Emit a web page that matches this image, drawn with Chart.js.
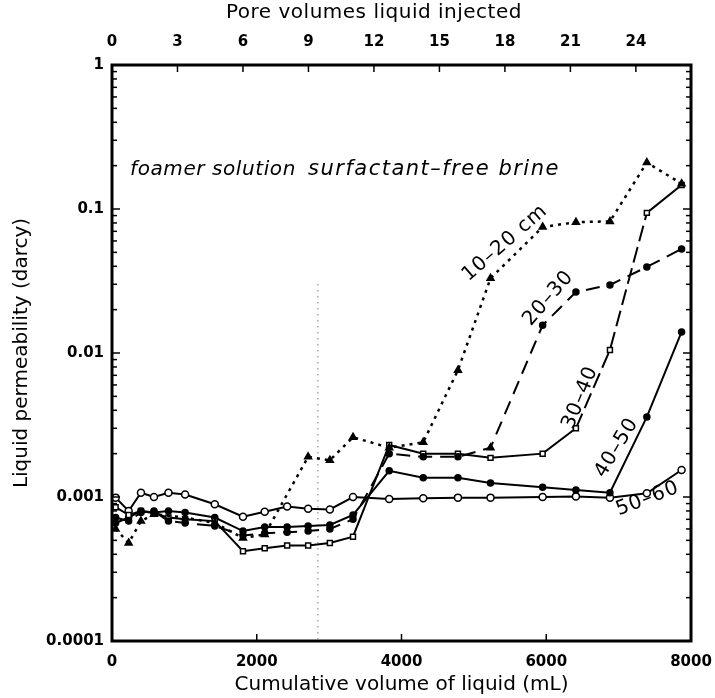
<!DOCTYPE html>
<html><head><meta charset="utf-8">
<script src="https://cdn.jsdelivr.net/npm/chart.js@4.4.1/dist/chart.umd.min.js"></script>
<style>html,body{margin:0;padding:0;background:#fff}canvas{display:block}</style>
</head><body>
<canvas id="c" width="715" height="698"></canvas>
<script>
// Cumulative volume of liquid (mL) at each measurement
const volumes = [50, 230, 400, 580, 780, 1010, 1420, 1810, 2110, 2420, 2710, 3010, 3330, 3830, 4300, 4780, 5230, 5950, 6410, 6880, 7390, 7870];
// Liquid permeability (darcy) per core section
const perm1020 = [0.00060, 0.00048, 0.00068, 0.00076, null, 0.00072, 0.00066, 0.00052, 0.00055, null, 0.0019, 0.0018, 0.0026, 0.0022, 0.0024, 0.0076, 0.033, 0.075, 0.081, 0.082, 0.21, 0.15];
const perm2030 = [0.00072, 0.00068, 0.00078, 0.00080, 0.00068, 0.00066, 0.00063, 0.00054, 0.00056, 0.00057, 0.00058, 0.00060, 0.00070, 0.0020, 0.0019, 0.0019, 0.0022, 0.0156, 0.0265, 0.0297, 0.0396, 0.0528];
const perm3040 = [0.00085, 0.00075, 0.00080, 0.00077, 0.00072, 0.00070, 0.00068, 0.00042, 0.00044, 0.00046, 0.00046, 0.00048, 0.00053, 0.0023, 0.0020, 0.0020, 0.00187, 0.0020, 0.0030, 0.0105, 0.094, 0.147];
const perm4050 = [0.00066, 0.00072, 0.00080, 0.00078, 0.00080, 0.00078, 0.00072, 0.00058, 0.00062, 0.00062, 0.00063, 0.00064, 0.00075, 0.00152, 0.00136, 0.00136, 0.00125, 0.00117, 0.00112, 0.00107, 0.0036, 0.014];
const perm5060 = [0.00099, 0.00080, 0.00107, 0.00100, 0.00107, 0.00104, 0.00089, 0.00073, 0.00079, 0.00086, 0.00083, 0.00082, 0.00100, 0.00097, 0.00098, 0.00099, 0.00099, 0.00100, 0.00101, 0.00099, 0.00106, 0.00154];
const seriesLabels = ['10\u201320 cm', '20\u201330', '30\u201340', '40\u201350', '50\u201360'];
// Axis ticks
const volumeTicks = [0, 2000, 4000, 6000, 8000];
const poreVolumeTicks = [0, 3, 6, 9, 12, 15, 18, 21, 24];
const permTicks = [1, 0.1, 0.01, 0.001, 0.0001];
const mlPerPoreVolume = 301.6;
const brineStartVolume = 2845;
const phaseLabels = ['foamer solution', 'surfactant\u2013free brine'];
const topTitle = 'Pore volumes liquid injected';
// Label anchors in data coordinates [volume, permeability, angleDeg]
const labelAnchors = [[5430, 0.058, -41], [6030, 0.024, -49], [6470, 0.0049, -68], [6975, 0.0022, -59], [7400, 0.00097, -21]];

const FONT = '"DejaVu Sans", sans-serif';
const pts = arr => volumes.map((v, i) => ({x: v, y: arr[i]}));

function fitText(ctx, text, x, y, width) {
  ctx.letterSpacing = '0px';
  const w = ctx.measureText(text).width;
  const sp = Math.max(0, (width - w) / text.length);
  ctx.letterSpacing = sp.toFixed(2) + 'px';
  ctx.fillText(text, x, y);
  ctx.letterSpacing = '0px';
}

const decor = {
  id: 'decor',
  beforeDatasetsDraw(chart) {
    const {ctx, chartArea: a, scales: {x, y}} = chart;
    const px = x.getPixelForValue(brineStartVolume);
    ctx.save();
    ctx.strokeStyle = '#444'; ctx.lineWidth = 1; ctx.setLineDash([1, 5]);
    ctx.beginPath(); ctx.moveTo(px, y.getPixelForValue(0.03)); ctx.lineTo(px, a.bottom - 2); ctx.stroke();
    ctx.restore();
  },
  afterDraw(chart) {
    const {ctx, chartArea: a, scales: {x, x2, y}} = chart;
    ctx.save();
    ctx.strokeStyle = '#000'; ctx.lineWidth = 1.5; ctx.setLineDash([]);
    for (let e = -4; e <= 0; e++) {
      for (let m = 1; m <= 9; m++) {
        const v = m * Math.pow(10, e);
        if (v > 1.0001) continue;
        const py = y.getPixelForValue(v);
        const len = m === 1 ? 8 : 5;
        ctx.beginPath(); ctx.moveTo(a.left, py); ctx.lineTo(a.left + len, py); ctx.stroke();
        ctx.beginPath(); ctx.moveTo(a.right, py); ctx.lineTo(a.right - len, py); ctx.stroke();
      }
    }
    volumeTicks.forEach(v => { const p = x.getPixelForValue(v); ctx.beginPath(); ctx.moveTo(p, a.bottom); ctx.lineTo(p, a.bottom - 7); ctx.stroke(); });
    poreVolumeTicks.forEach(v => { const p = x2.getPixelForValue(v); ctx.beginPath(); ctx.moveTo(p, a.top); ctx.lineTo(p, a.top + 7); ctx.stroke(); });
    ctx.lineWidth = 3;
    ctx.strokeRect(a.left, a.top, a.right - a.left, a.bottom - a.top);
    ctx.fillStyle = '#000';
    // top title
    ctx.font = '20px ' + FONT; ctx.textBaseline = 'middle'; ctx.textAlign = 'left';
    fitText(ctx, topTitle, 226, 13, 296);
    // phase labels
    ctx.font = 'oblique 20px ' + FONT;
    fitText(ctx, phaseLabels[0], 130, 170, 166);
    ctx.font = 'oblique 21px ' + FONT;
    fitText(ctx, phaseLabels[1], 308, 170, 252);
    // series labels
    ctx.font = '20px ' + FONT; ctx.textAlign = 'center';
    labelAnchors.forEach((an, i) => {
      ctx.save();
      ctx.translate(x.getPixelForValue(an[0]), y.getPixelForValue(an[1]));
      ctx.rotate(an[2] * Math.PI / 180);
      ctx.letterSpacing = '1px';
      ctx.fillText(seriesLabels[i], 0, 0);
      ctx.restore();
    });
    ctx.restore();
  }
};

const base = {borderColor: '#000', borderWidth: 2, pointBorderColor: '#000', pointBorderWidth: 1.5, spanGaps: true, tension: 0, fill: false};
const pointStyle2030 = volumes.map((v, i) => i === 16 ? 'triangle' : 'circle');
const pointRadius2030 = volumes.map((v, i) => i === 16 ? 4 : 3);
const noPad = s => { s.paddingLeft = 0; s.paddingRight = 0; };

new Chart(document.getElementById('c'), {
  type: 'line',
  data: {
    datasets: [
      Object.assign({}, base, {label: seriesLabels[0], data: pts(perm1020), borderDash: [3, 5], borderWidth: 2.5, pointStyle: 'triangle', pointRadius: 4, pointBackgroundColor: '#000'}),
      Object.assign({}, base, {label: seriesLabels[1], data: pts(perm2030), borderDash: [14, 8], pointStyle: pointStyle2030, pointRadius: pointRadius2030, pointBackgroundColor: '#000'}),
      Object.assign({}, base, {label: seriesLabels[2], data: pts(perm3040), pointStyle: 'rect', pointRadius: 3.5, pointBackgroundColor: '#fff',
        segment: {borderDash: c => c.p0DataIndex >= 18 && c.p0DataIndex <= 19 ? [16, 6] : undefined}}),
      Object.assign({}, base, {label: seriesLabels[3], data: pts(perm4050), pointStyle: 'circle', pointRadius: 3, pointBackgroundColor: '#000'}),
      Object.assign({}, base, {label: seriesLabels[4], data: pts(perm5060), pointStyle: 'circle', pointRadius: 3.5, pointBackgroundColor: '#fff'})
    ]
  },
  options: {
    responsive: false, animation: false, devicePixelRatio: 1,
    layout: {padding: {left: 0, right: 24, top: 0, bottom: 0}},
    plugins: {legend: {display: false}, title: {display: false}, tooltip: {enabled: false}},
    scales: {
      x: {type: 'linear', position: 'bottom', min: 0, max: 8000,
        afterBuildTicks: s => { s.ticks = volumeTicks.map(v => ({value: v})); },
        afterFit: s => { s.height = 57; noPad(s); },
        grid: {display: false, drawTicks: false}, border: {display: false},
        ticks: {color: '#000', padding: 12, maxRotation: 0, font: {family: FONT, size: 15, weight: 'bold'}, callback: v => String(v)},
        title: {display: true, text: 'Cumulative volume of liquid (mL)', color: '#000', padding: {top: 0, bottom: 1}, font: {family: FONT, size: 20}}},
      x2: {type: 'linear', position: 'top', min: 0, max: 8000 / mlPerPoreVolume,
        afterBuildTicks: s => { s.ticks = poreVolumeTicks.map(v => ({value: v})); },
        afterFit: s => { s.height = 65; noPad(s); },
        grid: {display: false, drawTicks: false}, border: {display: false},
        ticks: {color: '#000', padding: 14, maxRotation: 0, font: {family: FONT, size: 15, weight: 'bold'}, callback: v => String(v)},
        title: {display: false}},
      y: {type: 'logarithmic', position: 'left', min: 0.0001, max: 1,
        afterBuildTicks: s => { s.ticks = permTicks.map(v => ({value: v})); },
        afterFit: s => { s.width = 112; },
        grid: {display: false, drawTicks: false}, border: {display: false},
        ticks: {color: '#000', padding: 8, font: {family: FONT, size: 15, weight: 'bold'}, callback: v => String(v)},
        title: {display: true, text: 'Liquid permeability (darcy)', color: '#000', padding: {top: 10, bottom: 0}, font: {family: FONT, size: 20}}}
    }
  },
  plugins: [decor]
});
</script>
</body></html>
